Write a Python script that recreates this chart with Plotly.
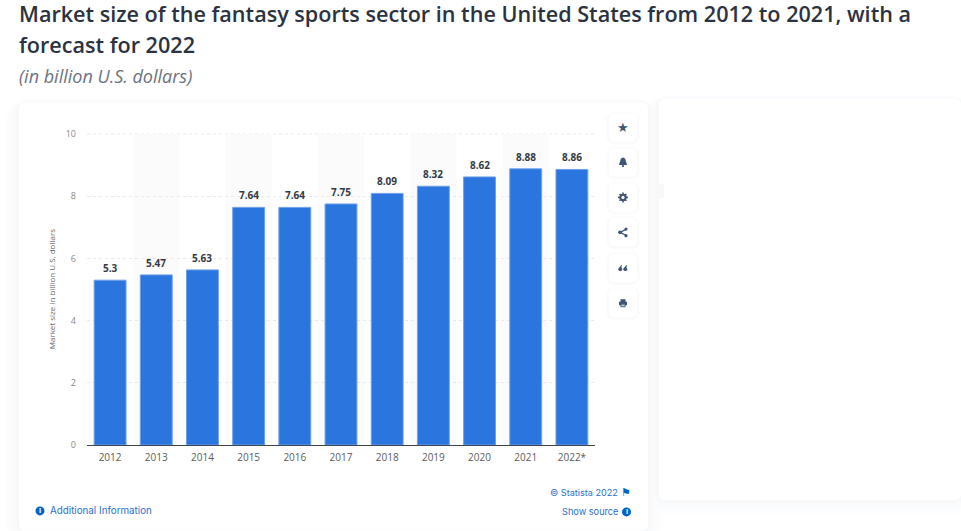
import plotly.graph_objects as go

years = ["2012", "2013", "2014", "2015", "2016", "2017", "2018", "2019", "2020", "2021", "2022*"]
values = [5.3, 5.47, 5.63, 7.64, 7.64, 7.75, 8.09, 8.32, 8.62, 8.88, 8.86]
y_ticks = [0, 2, 4, 6, 8, 10]
labels = ["5.3", "5.47", "5.63", "7.64", "7.64", "7.75", "8.09", "8.32", "8.62", "8.88", "8.86"]

W, H = 961, 531
L, R, T, B = 87, 595, 133.5, 445
DARK = "#3f5573"
BLUE = "#0066c5"
LINK = "#2a6fd0"
GRID = "#e9e9e9"

def px(x): return (x - L) / (R - L)
def py(y): return (B - y) / (B - T)

fig = go.Figure(go.Bar(
    x=years, y=values, width=0.69,
    marker=dict(color="#2a75de", line=dict(color="#6fa0e8", width=1)),
    hoverinfo="skip",
))

shapes = []
def poly(points, fill, layer="below"):
    path = "M " + " L ".join(f"{px(a):.5f},{py(b):.5f}" for a, b in points) + " Z"
    shapes.append(dict(type="path", xref="paper", yref="paper", path=path,
                       fillcolor=fill, line=dict(width=0), layer=layer))

def card(x0, y0, x1, y1, r=5, fill="#ffffff", layer="below"):
    c = [(x0 + r, y0), (x1 - r, y0), (x1 - r * .3, y0 + r * .3), (x1, y0 + r), (x1, y1 - r),
         (x1 - r * .3, y1 - r * .3), (x1 - r, y1), (x0 + r, y1), (x0 + r * .3, y1 - r * .3),
         (x0, y1 - r), (x0, y0 + r), (x0 + r * .3, y0 + r * .3)]
    poly(c, fill, layer)

def circle(cx, cy, r, fill, layer="above"):
    shapes.append(dict(type="circle", xref="paper", yref="paper", x0=px(cx - r), x1=px(cx + r),
                       y0=py(cy + r), y1=py(cy - r), fillcolor=fill, line=dict(width=0), layer=layer))

def seg(x0, y0, x1, y1, color, width=1, layer="above", dash="solid"):
    shapes.append(dict(type="line", xref="paper", yref="paper", x0=px(x0), x1=px(x1), y0=py(y0), y1=py(y1),
                       line=dict(color=color, width=width, dash=dash), layer=layer))

# soft shadows and cards
for k, c in ((14, "#fdfdfe"), (10, "#fbfcfd"), (6, "#f9fafc"), (3, "#f7f8fa")):
    card(19 - k, 102 - k * .25, 648 + k, 531 + k, r=6 + k, fill=c)
    card(659 - k, 98 - k * .25, 961 + k, 500 + k, r=6 + k, fill=c)
card(19, 102, 648, 531)
card(659, 98, 961, 500)
# small notch in the left edge of the right-hand card
poly([(659, 184), (664, 184), (664, 198), (659, 198)], "#f7f8fa")

# alternating bands, behind the bars
for i in range(1, len(years), 2):
    shapes.append(dict(type="rect", xref="x", yref="y", x0=i - 0.5, x1=i + 0.5, y0=0, y1=10,
                       fillcolor="#fbfbfb", line=dict(width=0), layer="below"))
seg(L, T, R, T, GRID, 1, layer="between", dash="dot")

# icon buttons
btn_tops = [113, 148, 183, 218, 254, 289]
for top in btn_tops:
    for k, c in ((3, "#fcfcfd"), (1.5, "#f9fafb")):
        card(609 - k, top - k + 1, 637 + k, top + 28 + k, r=4 + k, fill=c, layer="above")
    card(609, top, 637, top + 28, r=4, layer="above")

# bell
cy = 148 + 14
poly([(623, cy - 5), (625, cy - 4), (626, cy - 1), (627, cy + 2.5), (619, cy + 2.5), (620, cy - 1), (621, cy - 4)], DARK, "above")
circle(623, cy + 3.6, 1.1, DARK)
# gear
cy = 183 + 14
for a, b, c, d in ((623, cy - 5, 623, cy + 5), (618, cy, 628, cy), (619.6, cy - 3.4, 626.4, cy + 3.4), (619.6, cy + 3.4, 626.4, cy - 3.4)):
    seg(a, b, c, d, DARK, 1.6)
circle(623, cy, 3.7, DARK)
circle(623, cy, 1.6, "#ffffff")
# share
cy = 218 + 14
seg(620, cy, 626, cy - 3, DARK, 1.2)
seg(620, cy, 626, cy + 3, DARK, 1.2)
circle(620, cy, 1.8, DARK)
circle(626, cy - 3.3, 1.6, DARK)
circle(626, cy + 3.3, 1.6, DARK)
# quotes
cy = 254 + 13.5
for cx in (620.3, 625.3):
    circle(cx, cy + 1.4, 1.9, DARK)
    poly([(cx - 1.9, cy + 1.2), (cx + 1.2, cy - 3), (cx + 1.6, cy - 2.2), (cx + 0.8, cy + 0.5)], DARK, "above")
# printer
cy = 289 + 14
poly([(620.5, cy - 4), (625.5, cy - 4), (625.5, cy - 1), (620.5, cy - 1)], DARK, "above")
poly([(619, cy - 1.5), (627, cy - 1.5), (627, cy + 2), (619, cy + 2)], DARK, "above")
poly([(620.5, cy + 0.5), (625.5, cy + 0.5), (625.5, cy + 4), (620.5, cy + 4)], DARK, "above")
poly([(621.3, cy + 1.3), (624.7, cy + 1.3), (624.7, cy + 3.2), (621.3, cy + 3.2)], "#b9c4d2", "above")
# round info badges
circle(40, 511, 4.5, BLUE)
circle(626.5, 512, 4.5, BLUE)

fig.update_layout(
    width=W, height=H, autosize=False,
    paper_bgcolor="#ffffff", plot_bgcolor="rgba(0,0,0,0)",
    margin=dict(l=L, r=W - R, t=T, b=H - B),
    showlegend=False, shapes=shapes,
    xaxis=dict(type="category", range=[-0.5, 10.5], showgrid=False, ticks="", showline=True,
               linecolor="#3c4450", linewidth=1,
               tickfont=dict(family="Open Sans", size=10, color="#5c5c5c"), ticklabelstandoff=3),
    yaxis=dict(range=[0, 10], tickvals=y_ticks, showgrid=True, gridcolor=GRID, griddash="dot",
               gridwidth=1, zeroline=False, showline=False, ticks="",
               tickfont=dict(family="Open Sans", size=9, color="#8a8a8a"), ticklabelstandoff=10),
)

# on a category axis a numeric-looking string reads as an index, so annotate by index
for i, (v, lab) in enumerate(zip(values, labels)):
    fig.add_annotation(x=i, y=v, text=lab, showarrow=False, yanchor="middle", yshift=12,
                       font=dict(family="Open Sans", size=10, color="#333a45", weight=700))

def note(text, x, y, size, color, family="Open Sans", weight=400, style="normal", anchor="left", angle=0):
    fig.add_annotation(xref="paper", yref="paper", x=px(x), y=py(y), text=text, showarrow=False,
                       xanchor=anchor, yanchor="middle", textangle=angle, borderpad=0, borderwidth=0,
                       font=dict(family=family, size=size, color=color, weight=weight, style=style))

note("Market size of the fantasy sports sector in the United States from 2012 to 2021, with a", 19, 13, 21.6, "#2c3340", weight=600)
note("forecast for 2022", 19, 44, 21.6, "#2c3340", weight=600)
note("(in billion U.S. dollars)", 19, 75, 18, "#6b7280", style="italic")
note("Market size in billion U.S. dollars", 51, 289, 8, "#666666", anchor="center", angle=-90)

note("★", 623, 127, 13, DARK, family="DejaVu Sans", anchor="center")

note("Additional Information", 50, 511, 9.8, LINK, family="Inter")
note("i", 40, 511, 7, "#ffffff", anchor="center", weight=700)
note("© Statista 2022", 618, 493, 9.1, LINK, family="Inter", anchor="right")
note("⚑", 626, 493, 11, BLUE, family="DejaVu Sans", anchor="center")
note("Show source", 618, 512, 9.2, LINK, family="Inter", anchor="right")
note("i", 626.5, 512, 7, "#ffffff", anchor="center", weight=700)

fig.write_html("out.html", config=dict(displayModeBar=False),
               post_script="document.body.style.margin='0';document.body.style.overflow='hidden';")
